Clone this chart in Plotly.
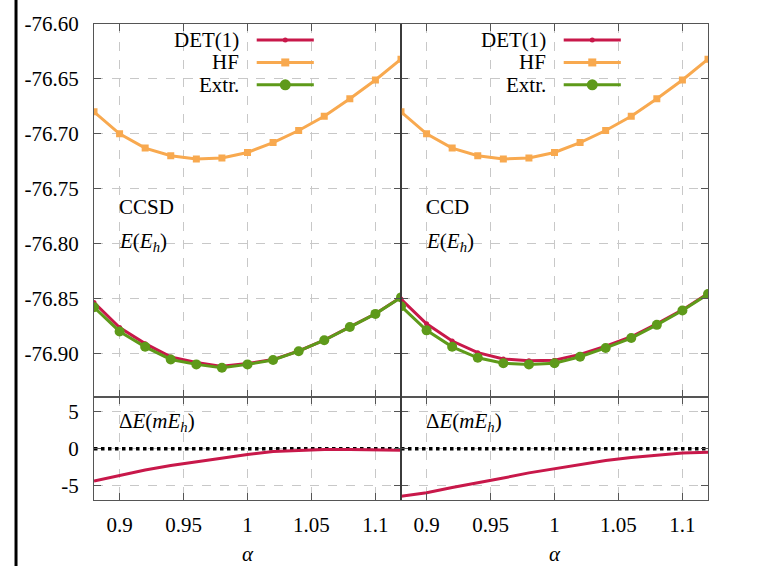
import plotly.graph_objects as go

alpha = [0.88, 0.90, 0.92, 0.94, 0.96, 0.98, 1.00, 1.02, 1.04, 1.06, 1.08, 1.10, 1.12]

hf = [-76.680, -76.700, -76.713, -76.720, -76.723, -76.722, -76.717,
      -76.708, -76.697, -76.684, -76.668, -76.651, -76.632]

ccsd_extr = [-76.858, -76.880, -76.894, -76.9055, -76.910, -76.913, -76.910,
             -76.906, -76.898, -76.888, -76.876, -76.864, -76.849]
ccsd_dE = [-4.4, -3.6, -2.9, -2.3, -1.8, -1.2, -0.8, -0.4, -0.2, -0.1, -0.1, -0.1, -0.2]

ccd_extr = [-76.857, -76.879, -76.894, -76.904, -76.909, -76.910, -76.909,
            -76.903, -76.895, -76.886, -76.874, -76.861, -76.846]
ccd_dE = [-6.5, -6.0, -5.3, -4.7, -4.0, -3.3, -2.7, -2.1, -1.6, -1.2, -0.9, -0.6, -0.5]

zero_line = [0.0] * len(alpha)

# DET(1) energies: Extr - dE (mEh -> Eh)
ccsd_det = [e - d / 1000.0 for e, d in zip(ccsd_extr, ccsd_dE)]
ccd_det = [e - d / 1000.0 for e, d in zip(ccd_extr, ccd_dE)]

x_ticks = [0.9, 0.95, 1.0, 1.05, 1.1]
x_ticktext = ["0.9", "0.95", "1", "1.05", "1.1"]
e_ticks = [-76.60, -76.65, -76.70, -76.75, -76.80, -76.85, -76.90]
e_ticktext = ["-76.60", "-76.65", "-76.70", "-76.75", "-76.80", "-76.85", "-76.90"]
d_ticks = [5, 0, -5]
d_ticktext = ["5", "0", "-5"]

RED = "#c8184a"
ORANGE = "#f8a94f"
GREEN = "#5e9a1a"
FONT = "Liberation Serif"
FS = 21

fig = go.Figure()

def add_panel(xa, ya_top, ya_bot, det, extr, dE):
    fig.add_trace(go.Scatter(x=alpha, y=hf, xaxis=xa[0], yaxis=ya_top, mode="lines+markers",
                             line=dict(color=ORANGE, width=3),
                             marker=dict(symbol="square", size=7, color=ORANGE), showlegend=False))
    fig.add_trace(go.Scatter(x=alpha, y=det, xaxis=xa[0], yaxis=ya_top, mode="lines+markers",
                             line=dict(color=RED, width=3),
                             marker=dict(symbol="circle", size=5, color=RED), showlegend=False))
    fig.add_trace(go.Scatter(x=alpha, y=extr, xaxis=xa[0], yaxis=ya_top, mode="lines+markers",
                             line=dict(color=GREEN, width=3),
                             marker=dict(symbol="circle", size=10, color=GREEN), showlegend=False))
    fig.add_trace(go.Scatter(x=alpha, y=zero_line, xaxis=xa[1], yaxis=ya_bot, mode="lines",
                             line=dict(color="black", width=3.5, dash="dot"), showlegend=False))
    fig.add_trace(go.Scatter(x=alpha, y=dE, xaxis=xa[1], yaxis=ya_bot, mode="lines",
                             line=dict(color=RED, width=3), showlegend=False))

add_panel(("x", "x2"), "y", "y2", ccsd_det, ccsd_extr, ccsd_dE)
add_panel(("x3", "x4"), "y3", "y4", ccd_det, ccd_extr, ccd_dE)

SPLIT = 0.2157
axis_common = dict(showline=True, linecolor="#555555", linewidth=1.2, mirror="ticks",
                   ticks="inside", ticklen=7, tickcolor="#555555", tickwidth=1.2,
                   showgrid=True, gridcolor="#c8c8c8", griddash="dash", gridwidth=1,
                   zeroline=False, tickfont=dict(family=FONT, size=FS, color="black"))

xr = [0.88, 1.12]
fig.update_layout(
    xaxis=dict(domain=[0, 0.5], anchor="y", range=xr, tickvals=x_ticks, showticklabels=False, **axis_common),
    xaxis2=dict(domain=[0, 0.5], anchor="y2", range=xr, tickvals=x_ticks, ticktext=x_ticktext,
                ticklabelstandoff=6, **axis_common),
    xaxis3=dict(domain=[0.5, 1], anchor="y3", range=xr, tickvals=x_ticks, showticklabels=False, **axis_common),
    xaxis4=dict(domain=[0.5, 1], anchor="y4", range=xr, tickvals=x_ticks, ticktext=x_ticktext,
                ticklabelstandoff=6, **axis_common),
    yaxis=dict(domain=[SPLIT, 1], anchor="x", range=[-76.94, -76.60], tickvals=e_ticks,
               ticktext=e_ticktext, ticklabelstandoff=10, **axis_common),
    yaxis2=dict(domain=[0, SPLIT], anchor="x2", range=[-7, 7], tickvals=d_ticks,
                ticktext=d_ticktext, ticklabelstandoff=10, **axis_common),
    yaxis3=dict(domain=[SPLIT, 1], anchor="x3", range=[-76.94, -76.60], tickvals=e_ticks,
                showticklabels=False, **axis_common),
    yaxis4=dict(domain=[0, SPLIT], anchor="x4", range=[-7, 7], tickvals=d_ticks,
                showticklabels=False, **axis_common),
    width=774, height=566,
    margin=dict(l=94, r=66, t=21, b=66),
    plot_bgcolor="white", paper_bgcolor="white",
    font=dict(family=FONT, size=FS, color="black"),
)

annotations = []
shapes = []

# page border line on the left
shapes.append(dict(type="line", xref="paper", yref="paper", x0=-0.127, x1=-0.127, y0=-0.2, y1=1.1,
                   line=dict(color="black", width=3)))
# darker middle separator
shapes.append(dict(type="line", xref="paper", yref="paper", x0=0.5, x1=0.5, y0=0, y1=1,
                   line=dict(color="#333333", width=1.5)))

for xa, ya, yb, name in (("x", "y", "y2", "CCSD"), ("x3", "y3", "y4", "CCD")):
    xd = xa + " domain"
    annotations.append(dict(xref=xd, yref=ya + " domain", x=0.075, y=0.51, text=name,
                            showarrow=False, xanchor="left", yanchor="middle",
                            font=dict(family=FONT, size=FS)))
    annotations.append(dict(xref=xd, yref=ya + " domain", x=0.075, y=0.415,
                            text="<i>E</i>(<i>E</i><sub><i>h</i></sub>)",
                            showarrow=False, xanchor="left", yanchor="middle",
                            font=dict(family=FONT, size=FS)))
    annotations.append(dict(xref=xd, yref=yb + " domain", x=0.075, y=0.76,
                            text="Δ<i>E</i>(<i>mE</i><sub><i>h</i></sub>)",
                            showarrow=False, xanchor="left", yanchor="middle",
                            font=dict(family=FONT, size=FS)))
    annotations.append(dict(xref=xd, yref="paper", x=0.5, y=-0.114, text="<i>α</i>",
                            showarrow=False, xanchor="center", yanchor="middle",
                            font=dict(family=FONT, size=FS)))
    # legend
    items = [("DET(1)", RED, "circle", 5), ("HF", ORANGE, "rect", 8), ("Extr.", GREEN, "circle", 11)]
    for i, (lab, col, sym, sz) in enumerate(items):
        yy = 0.957 - i * 0.06
        annotations.append(dict(xref=xd, yref=ya + " domain", x=0.478, y=yy, text=lab,
                                showarrow=False, xanchor="right", yanchor="middle",
                                font=dict(family=FONT, size=FS)))
        shapes.append(dict(type="line", xref=xd, yref=ya + " domain", x0=0.53, x1=0.716,
                           y0=yy, y1=yy, line=dict(color=col, width=3)))
        h = sz / 2
        shapes.append(dict(type=sym, xref=xd, yref=ya + " domain", xsizemode="pixel",
                           ysizemode="pixel", xanchor=0.623, yanchor=yy,
                           x0=-h, x1=h, y0=-h, y1=h, fillcolor=col, line=dict(color=col, width=0)))

fig.update_layout(annotations=annotations, shapes=shapes)
fig.write_html("out.html", config={"displayModeBar": False},
               post_script="document.body.style.margin='0px';")
